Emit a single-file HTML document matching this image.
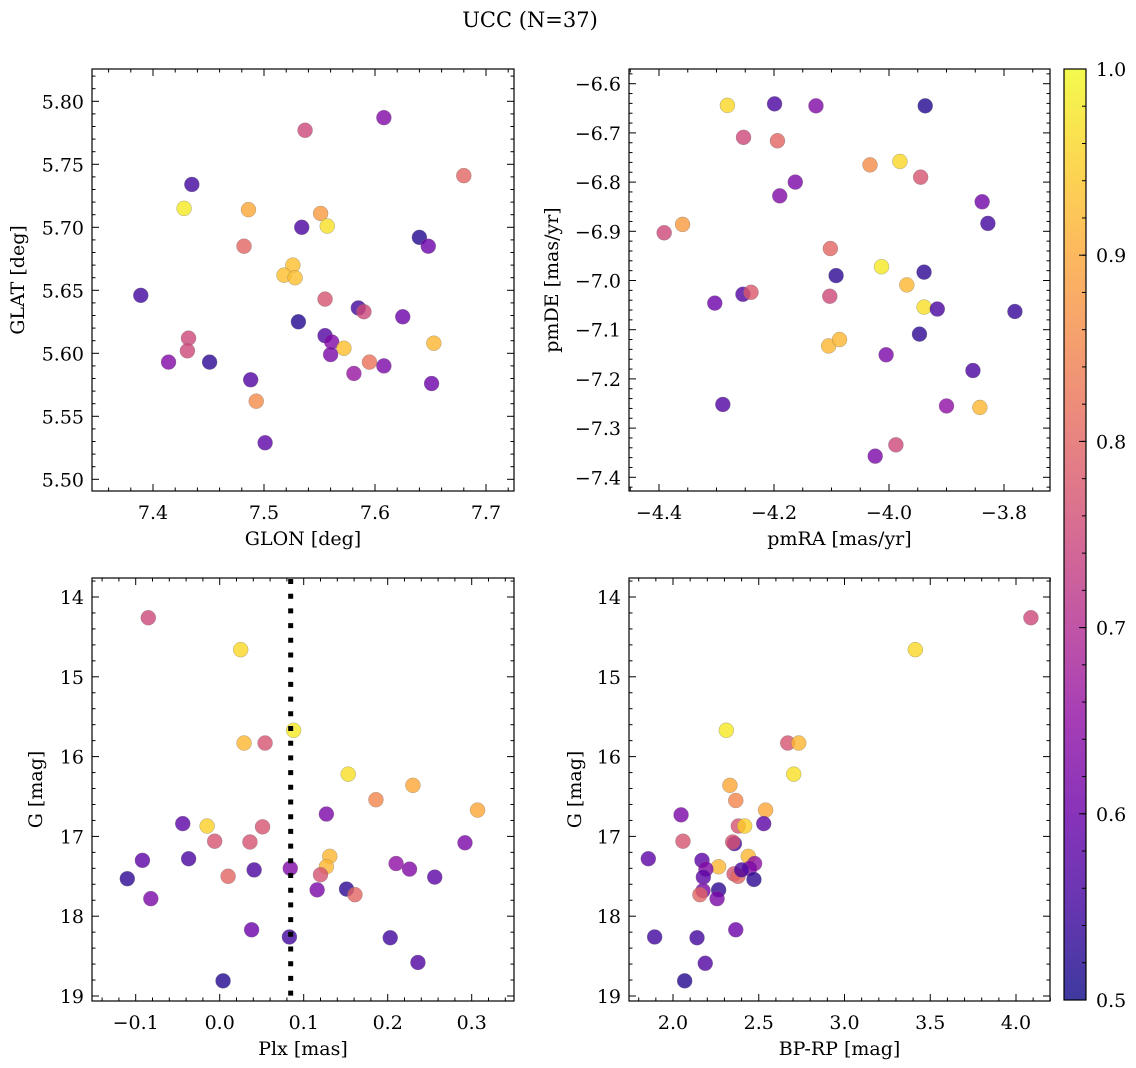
<!DOCTYPE html>
<html><head><meta charset="utf-8">
<style>
html,body{margin:0;padding:0;background:#fff;}
svg{display:block;font-family:"DejaVu Serif","Liberation Serif",serif;}
</style></head>
<body>
<svg id="fig" width="1136" height="1068" viewBox="0 0 1136 1068" xmlns="http://www.w3.org/2000/svg">
<defs>
<linearGradient id="plasmaGrad" x1="0" y1="1" x2="0" y2="0">
<stop offset="0" stop-color="#0d0887"/><stop offset="0.1" stop-color="#41049d"/><stop offset="0.2" stop-color="#6a00a8"/><stop offset="0.3" stop-color="#8f0da4"/><stop offset="0.4" stop-color="#b12a90"/><stop offset="0.5" stop-color="#cc4778"/><stop offset="0.6" stop-color="#e16462"/><stop offset="0.7" stop-color="#f2844b"/><stop offset="0.8" stop-color="#fca636"/><stop offset="0.9" stop-color="#fcce25"/><stop offset="1" stop-color="#f0f921"/>
</linearGradient>
</defs>
<text x="530" y="27" font-size="21" text-anchor="middle" fill="#000">UCC (N=37)</text>
<g id="layer"></g>
</svg>
<script>
// ---- Panel 1: GLON vs GLAT
const glon1 = [7.608,7.537,7.680,7.435,7.428,7.486,7.551,7.557,7.534,7.640,7.648,7.482,7.526,7.518,7.528,7.389,7.555,7.585,7.590,7.625,7.531,7.555,7.561,7.572,7.653,7.432,7.431,7.560,7.414,7.451,7.595,7.608,7.581,7.651,7.488,7.493,7.501];
const glat1 = [5.787,5.777,5.741,5.734,5.715,5.714,5.711,5.701,5.700,5.692,5.685,5.685,5.670,5.662,5.660,5.646,5.643,5.636,5.633,5.629,5.625,5.614,5.609,5.604,5.608,5.612,5.602,5.599,5.593,5.593,5.593,5.590,5.584,5.576,5.579,5.562,5.529];
const prob1 = [0.63,0.75,0.80,0.55,0.98,0.90,0.88,0.97,0.56,0.52,0.60,0.80,0.93,0.93,0.93,0.55,0.77,0.55,0.75,0.60,0.52,0.57,0.63,0.93,0.92,0.75,0.75,0.62,0.63,0.53,0.82,0.62,0.66,0.60,0.57,0.86,0.58];
// ---- Panel 2: pmRA vs pmDE
const pmra2 = [-4.281,-4.199,-4.127,-3.937,-4.253,-4.194,-4.033,-3.981,-3.945,-4.163,-4.190,-3.838,-3.828,-4.391,-4.359,-4.102,-4.013,-4.092,-3.939,-3.969,-4.303,-4.254,-4.240,-4.103,-3.939,-3.916,-3.781,-3.947,-4.105,-4.086,-4.005,-3.854,-4.289,-3.900,-3.842,-3.988,-4.024];
const pmde2 = [-6.644,-6.641,-6.645,-6.645,-6.709,-6.716,-6.765,-6.758,-6.790,-6.800,-6.828,-6.840,-6.884,-6.903,-6.886,-6.935,-6.972,-6.990,-6.983,-7.009,-7.046,-7.028,-7.024,-7.032,-7.054,-7.058,-7.063,-7.109,-7.133,-7.120,-7.151,-7.183,-7.252,-7.255,-7.258,-7.334,-7.357];
const prob2 = [0.96,0.56,0.63,0.52,0.75,0.80,0.86,0.96,0.77,0.62,0.63,0.61,0.55,0.75,0.88,0.80,0.98,0.53,0.53,0.92,0.60,0.57,0.78,0.75,0.97,0.56,0.54,0.53,0.92,0.92,0.62,0.56,0.57,0.65,0.92,0.75,0.62];
// ---- Panel 3: Plx vs G
const plx3 = [-0.085,0.025,0.088,0.029,0.054,0.153,0.230,0.186,0.307,0.127,-0.044,-0.015,0.051,-0.006,0.036,0.292,-0.092,-0.037,0.131,0.127,0.210,0.226,0.041,0.084,0.256,0.120,-0.110,0.010,0.116,0.151,0.161,-0.082,0.038,0.083,0.203,0.236,0.004];
const gmag3 = [14.26,14.66,15.67,15.83,15.83,16.22,16.36,16.54,16.67,16.72,16.84,16.87,16.88,17.06,17.07,17.08,17.30,17.28,17.25,17.38,17.34,17.41,17.42,17.40,17.51,17.48,17.53,17.50,17.67,17.66,17.73,17.78,18.17,18.26,18.27,18.58,18.81];
const prob3 = [0.75,0.96,0.98,0.92,0.77,0.97,0.90,0.85,0.90,0.62,0.58,0.95,0.77,0.77,0.77,0.62,0.58,0.56,0.92,0.92,0.65,0.63,0.56,0.63,0.58,0.77,0.53,0.80,0.62,0.53,0.80,0.62,0.60,0.55,0.55,0.57,0.52];
const plxRef = 0.0845;
// ---- Panel 4: BP-RP vs G
const bprp4 = [4.087,3.413,2.311,2.669,2.733,2.704,2.332,2.366,2.540,2.047,2.529,2.381,2.418,2.058,2.358,2.348,1.856,2.169,2.439,2.266,2.476,2.447,2.192,2.177,2.356,2.379,2.472,2.266,2.175,2.157,2.257,2.366,1.893,2.140,2.188,2.068,2.400];
const gmag4 = [14.26,14.66,15.67,15.83,15.83,16.22,16.36,16.55,16.67,16.73,16.84,16.87,16.87,17.06,17.09,17.07,17.28,17.30,17.25,17.38,17.34,17.40,17.41,17.51,17.47,17.50,17.54,17.67,17.68,17.73,17.78,18.17,18.26,18.27,18.59,18.81,17.42];
const prob4 = [0.75,0.96,0.98,0.77,0.92,0.97,0.90,0.85,0.90,0.62,0.58,0.77,0.95,0.77,0.56,0.77,0.58,0.58,0.92,0.92,0.65,0.63,0.63,0.58,0.77,0.80,0.53,0.53,0.62,0.80,0.62,0.60,0.55,0.55,0.57,0.52,0.56];
// colorbar
const cbTicks = [0.5,0.6,0.7,0.8,0.9,1.0];

const NS = "http://www.w3.org/2000/svg";
const layer = document.getElementById('layer');
const stops = [[13,8,135],[65,4,157],[106,0,168],[143,13,164],[177,42,144],[204,71,120],[225,100,98],[242,132,75],[252,166,54],[252,206,37],[240,249,33]];
function plasma(p){
  let t = Math.max(0, Math.min(1, (p-0.5)/0.5))*10;
  const i = Math.min(9, Math.floor(t)); const f = t - i;
  const c = stops[i].map((v,k)=>Math.round(v+(stops[i+1][k]-v)*f));
  return 'rgb('+c.join(',')+')';
}
function mk(tag, attrs, parent){
  const e = document.createElementNS(NS, tag);
  for (const k in attrs) e.setAttribute(k, attrs[k]);
  (parent||layer).appendChild(e); return e;
}
function lin(v0,p0,v1,p1){ return v => p0 + (v-v0)*(p1-p0)/(v1-v0); }
function fmt(v, d){ const s = Math.abs(v).toFixed(d); return (v < -1e-9 ? '\u2212' : '') + s; }

function panel(cfg){
  const g = mk('g', {});
  
  
  const {L,R,T,B} = cfg;
  const sx = lin(cfg.xv0,cfg.xp0,cfg.xv1,cfg.xp1);
  const sy = lin(cfg.yv0,cfg.yp0,cfg.yv1,cfg.yp1);
  const pg = mk('g', {}, g);
  
  
  for (let i=0;i<cfg.xs.length;i++){
    const c = mk('circle', {cx: sx(cfg.xs[i]), cy: sy(cfg.ys[i]), r: 7.5, fill: plasma(cfg.ps[i]), 'fill-opacity': 0.8, stroke: '#777', 'stroke-width': 0.5, 'stroke-opacity':0.6}, pg);
    
    
  }
  if (cfg.extra) cfg.extra(g, sx, sy);
  const fr = mk('rect', {x:L, y:T, width:R-L, height:B-T, fill:'none', stroke:'#000', 'stroke-width':1.2}, g);
  
  
  const tg = mk('g', {stroke:'#000','stroke-width':1}, g);
  
  
  const lg = mk('g', {'font-size':19, fill:'#000'}, g);
  
  
  for (let k=Math.ceil(cfg.xmin/cfg.xmi); k*cfg.xmi<=cfg.xmax+1e-9; k++){
    const v = k*cfg.xmi; const p = sx(v); if (p<L-0.5||p>R+0.5) continue;
    const major = Math.abs(v/cfg.xma - Math.round(v/cfg.xma))<1e-6;
    const len = major?7:3.5;
    mk('line',{x1:p,y1:B,x2:p,y2:B-len},tg); mk('line',{x1:p,y1:T,x2:p,y2:T+len},tg);
    if (major){ const t = mk('text',{x:p,y:B+28,'text-anchor':'middle'},lg); t.textContent = fmt(v,cfg.xd); }
  }
  for (let k=Math.ceil(cfg.ymin/cfg.ymi); k*cfg.ymi<=cfg.ymax+1e-9; k++){
    const v = k*cfg.ymi; const p = sy(v); if (p<T-0.5||p>B+0.5) continue;
    const major = Math.abs(v/cfg.yma - Math.round(v/cfg.yma))<1e-6;
    const len = major?7:3.5;
    mk('line',{x1:L,y1:p,x2:L+len,y2:p},tg); mk('line',{x1:R,y1:p,x2:R-len,y2:p},tg);
    if (major){ const t = mk('text',{x:L-8,y:p+7,'text-anchor':'end'},lg); t.textContent = fmt(v,cfg.yd); }
  }
  const xl = mk('text',{x:(L+R)/2,y:B+54,'text-anchor':'middle','font-size':19},g);
   
  xl.textContent = cfg.xlabel;
  const yl = mk('text',{x:cfg.ylx,y:(T+B)/2,'text-anchor':'middle','font-size':19,transform:'rotate(-90 '+cfg.ylx+' '+((T+B)/2)+')'},g);
   
  yl.textContent = cfg.ylabel;
}

panel({name:'panel-glon-glat',L:92,R:514,T:69,B:491,xs:glon1,ys:glat1,ps:prob1,
  xv0:7.4,xp0:153,xv1:7.7,xp1:486,yv0:5.80,yp0:101.3,yv1:5.50,yp1:479.3,
  xmin:7.3,xmax:7.8,xmi:0.02,xma:0.1,xd:1,ymin:5.45,ymax:5.85,ymi:0.01,yma:0.05,yd:2,
  xlabel:'GLON [deg]',ylabel:'GLAT [deg]',ylx:24});
panel({name:'panel-pmra-pmde',L:629,R:1050,T:69,B:491,xs:pmra2,ys:pmde2,ps:prob2,
  xv0:-4.4,xp0:659,xv1:-3.8,xp1:1004,yv0:-6.6,yp0:83.7,yv1:-7.4,yp1:477.3,
  xmin:-4.5,xmax:-3.6,xmi:0.05,xma:0.2,xd:1,ymin:-7.5,ymax:-6.5,ymi:0.02,yma:0.1,yd:1,
  xlabel:'pmRA [mas/yr]',ylabel:'pmDE [mas/yr]',ylx:558});
panel({name:'panel-plx-g',L:92,R:514,T:578,B:1001,xs:plx3,ys:gmag3,ps:prob3,
  xv0:0,xp0:219.7,xv1:0.3,xp1:471.7,yv0:14,yp0:597,yv1:19,yp1:996,
  xmin:-0.2,xmax:0.4,xmi:0.02,xma:0.1,xd:1,ymin:13.6,ymax:19.2,ymi:0.2,yma:1,yd:0,
  xlabel:'Plx [mas]',ylabel:'G [mag]',ylx:42,
  extra:(g,sx,sy)=>{ const l = mk('line',{x1:sx(plxRef),y1:579,x2:sx(plxRef),y2:1000,stroke:'#000','stroke-width':5,'stroke-dasharray':'5 9.7'},g);
      }});
panel({name:'panel-bprp-g',L:629,R:1050,T:578,B:1001,xs:bprp4,ys:gmag4,ps:prob4,
  xv0:2,xp0:673,xv1:4,xp1:1016,yv0:14,yp0:597,yv1:19,yp1:996,
  xmin:1.5,xmax:4.5,xmi:0.1,xma:0.5,xd:1,ymin:13.6,ymax:19.2,ymi:0.2,yma:1,yd:0,
  xlabel:'BP-RP [mag]',ylabel:'G [mag]',ylx:581});

(function(){
  const g = mk('g',{});
  
  
  const L=1064,R=1086,T=69,B=1000;
  mk('rect',{x:L,y:T,width:R-L,height:B-T,fill:'url(#plasmaGrad)','fill-opacity':0.8},g);
  mk('rect',{x:L,y:T,width:R-L,height:B-T,fill:'none',stroke:'#000','stroke-width':1.2},g);
  const sy = lin(0.5,B,1.0,T);
  for (let k=25;k<=50;k++){
    const v = k*0.02; const p = sy(v);
    mk('line',{x1:R,y1:p,x2:R-4,y2:p,stroke:'#000','stroke-width':1},g);
  }
  cbTicks.forEach(v=>{
    const p = sy(v);
    mk('line',{x1:R,y1:p,x2:R-7,y2:p,stroke:'#000','stroke-width':1},g);
    const t = mk('text',{x:R+10,y:p+7,'font-size':19},g);
    
    
    t.textContent = v.toFixed(1);
  });
})();
</script>
</body></html>
